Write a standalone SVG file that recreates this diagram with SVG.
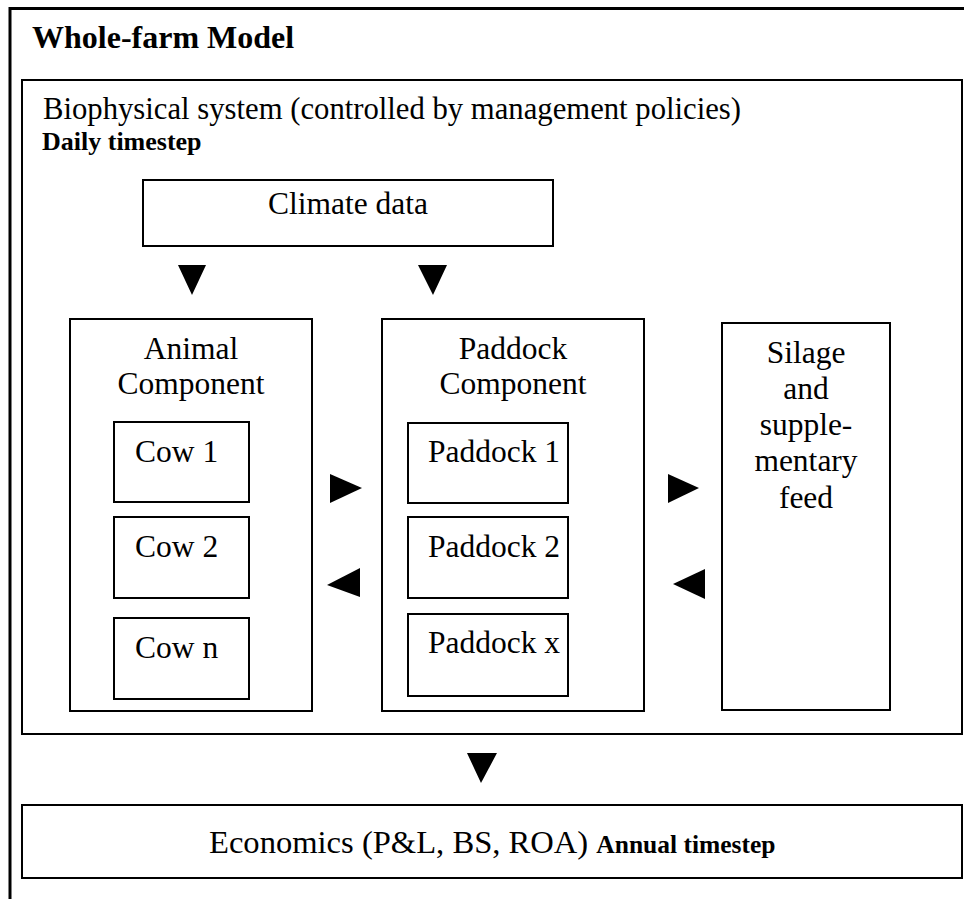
<svg xmlns="http://www.w3.org/2000/svg" width="964" height="899" viewBox="0 0 964 899" font-family="Liberation Serif, DejaVu Serif, serif">
<style>
.box{fill:#fff;stroke:#000;stroke-width:2}
.t{font-size:31.5px;fill:#000}
.b{font-weight:bold;fill:#000}
.c{text-anchor:middle}
.arr{fill:#000;stroke:none}
</style>
<rect width="964" height="899" fill="#fff"/>
<g id="frame">
<path d="M10,899 V8.5 H964" fill="none" stroke="#000" stroke-width="3"/>
<text class="b" x="32" y="48" font-size="32">Whole-farm Model</text>
</g>
<g id="biophysical">
<rect class="box" x="22" y="80" width="940" height="654"/>
<text class="t" x="43" y="119" style="font-size:30.7px">Biophysical system (controlled by management policies)</text>
<text class="b" x="42" y="149.5" font-size="26">Daily timestep</text>
</g>
<g id="climate">
<rect class="box" x="143" y="180" width="410" height="66"/>
<text class="t c" x="348" y="214">Climate data</text>
</g>
<g id="animal">
<rect class="box" x="70" y="319" width="242" height="392"/>
<text class="t c" x="191" y="359">Animal</text>
<text class="t c" x="191" y="394">Component</text>
</g>
<g id="cow1"><rect class="box" x="114" y="422" width="135" height="80"/><text class="t" x="135" y="462">Cow 1</text></g>
<g id="cow2"><rect class="box" x="114" y="517" width="135" height="81"/><text class="t" x="135" y="557">Cow 2</text></g>
<g id="cown"><rect class="box" x="114" y="618" width="135" height="81"/><text class="t" x="135" y="658">Cow n</text></g>
<g id="paddock">
<rect class="box" x="382" y="319" width="262" height="392"/>
<text class="t c" x="513" y="359">Paddock</text>
<text class="t c" x="513" y="394">Component</text>
</g>
<g id="paddock1"><rect class="box" x="408" y="423" width="160" height="80"/><text class="t" x="428" y="462">Paddock 1</text></g>
<g id="paddock2"><rect class="box" x="408" y="517" width="160" height="81"/><text class="t" x="428" y="557">Paddock 2</text></g>
<g id="paddockx"><rect class="box" x="408" y="614" width="160" height="82"/><text class="t" x="428" y="653">Paddock x</text></g>
<g id="silage">
<rect class="box" x="722" y="323" width="168" height="387"/>
<text class="t c" x="806" y="363">Silage</text>
<text class="t c" x="806" y="399">and</text>
<text class="t c" x="806" y="435">supple-</text>
<text class="t c" x="806" y="471">mentary</text>
<text class="t c" x="806" y="508">feed</text>
</g>
<g id="economics">
<rect class="box" x="22" y="805" width="940" height="73"/>
<text x="209" y="853"><tspan class="t" style="font-size:32.6px">Economics (P&amp;L, BS, ROA) </tspan><tspan class="b" font-size="25.5">Annual timestep</tspan></text>
</g>
<g id="connectors">
<polygon class="arr" points="178,265 206,265 192,295"/>
<polygon class="arr" points="418,265 447,265 433,295"/>
<polygon class="arr" points="330,474 362,488 330,503"/>
<polygon class="arr" points="360,568 327,585 360,597"/>
<polygon class="arr" points="668,474 699,488 668,503"/>
<polygon class="arr" points="705,569 673,584 705,599"/>
<polygon class="arr" points="467,753 497,753 481,783"/>
</g>
</svg>
